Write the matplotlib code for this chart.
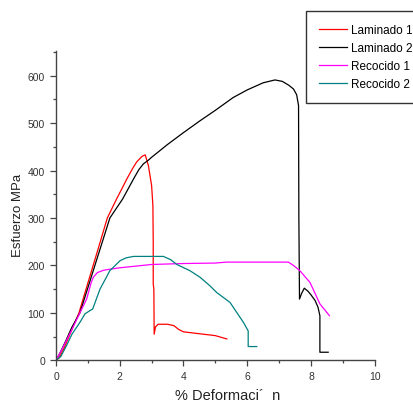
import matplotlib
matplotlib.use('Agg')
import matplotlib.pyplot as plt
from matplotlib.ticker import MultipleLocator

# Laminado 1 (red)
lam1_x = [0, 0.1, 0.25, 0.5, 0.72, 1.0, 1.3, 1.61, 1.9, 2.1, 2.22, 2.4, 2.53,
          2.7, 2.8, 2.9, 3.0, 3.04, 3.05, 3.05, 3.07, 3.08, 3.12, 3.2, 3.5,
          3.7, 3.85, 4.0, 4.5, 5.0, 5.36]
lam1_y = [0, 5, 25, 65, 100, 163, 230, 300, 340, 366, 382, 404, 418,
          430, 433, 410, 368, 326, 250, 161, 150, 55, 70, 76, 76,
          73, 65, 60, 56, 52, 45]

# Laminado 2 (black)
lam2_x = [0, 0.1, 0.3, 0.5, 0.75, 1.0, 1.3, 1.69, 2.09, 2.43, 2.6, 2.74, 2.9,
          3.0, 3.5, 4.0, 4.52, 5.0, 5.56, 6.0, 6.5, 6.87, 7.1, 7.3, 7.45,
          7.55, 7.61, 7.62, 7.64, 7.7, 7.79, 7.9, 8.0, 8.13, 8.22, 8.28,
          8.28, 8.54]
lam2_y = [0, 12, 40, 70, 100, 153, 217, 300, 340, 382, 402, 414, 422,
          428, 455, 480, 505, 527, 554, 570, 585, 591, 588, 580, 572,
          560, 537, 300, 129, 140, 152, 146, 138, 126, 112, 94,
          17, 17]

# Recocido 1 (magenta)
rec1_x = [0, 0.2, 0.5, 0.75, 0.96, 1.1, 1.17, 1.3, 1.5, 1.69, 2.0, 2.43, 3.0,
          4.0, 5.0, 5.36, 6.0, 7.0, 7.29, 7.45, 7.65, 7.97, 8.28, 8.58]
rec1_y = [0, 25, 65, 100, 129, 163, 175, 185, 190, 192, 195, 198, 202,
          204, 205, 207, 207, 207, 207, 200, 189, 164, 119, 94]

# Recocido 2 (teal)
rec2_x = [0, 0.15, 0.33, 0.5, 0.75, 0.91, 1.07, 1.15, 1.38, 1.69, 2.01, 2.2,
          2.43, 3.0, 3.37, 3.6, 3.79, 4.2, 4.52, 4.83, 5.04, 5.46, 5.88,
          6.03, 6.03, 6.30]
rec2_y = [0, 8, 31, 55, 80, 98, 105, 108, 150, 189, 210, 216,
          219, 219, 219, 212, 202, 189, 175, 157, 143, 122, 80,
          62, 29, 29]

series = [
    ('Laminado 1', lam1_x, lam1_y, '#ff0000'),
    ('Laminado 2', lam2_x, lam2_y, '#000000'),
    ('Recocido 1', rec1_x, rec1_y, '#ff00ff'),
    ('Recocido 2', rec2_x, rec2_y, '#008080'),
]

plt.rcParams['font.family'] = ['Liberation Sans', 'DejaVu Sans']

fig = plt.figure(figsize=(4.14, 4.06), dpi=100)
ax = fig.add_axes([0.1353, 0.1101, 0.7698, 0.7618])

for lab, xs, ys, col in series:
    ax.plot(xs, ys, color=col, lw=0.9, label=lab)

ax.set_xlim(0, 10)
ax.set_ylim(0, 652)
ax.xaxis.set_major_locator(MultipleLocator(2))
ax.xaxis.set_minor_locator(MultipleLocator(1))
ax.yaxis.set_major_locator(MultipleLocator(100))
ax.yaxis.set_minor_locator(MultipleLocator(50))

for s in ('top', 'right'):
    ax.spines[s].set_visible(False)
for s in ('left', 'bottom'):
    ax.spines[s].set_color('#444444')
    ax.spines[s].set_linewidth(1.0)

ax.tick_params(which='major', direction='out', length=4, width=0.9,
               color='#444444', labelsize=7.5, labelcolor='#333333', pad=4)
ax.tick_params(which='minor', direction='out', length=2.5, width=0.9,
               color='#444444')

fig.text(228 / 414, 1 - 396 / 406, '% Deformaci\u00b4  n', ha='center',
         va='center', fontsize=10.5, color='#222222')
fig.text(18 / 414, 1 - 215 / 406, 'Esfuerzo MPa', ha='center', va='center',
         rotation=90, fontsize=9.5, color='#222222')

leg = fig.legend(loc='upper left', bbox_to_anchor=(305.7 / 414, 1 - 12 / 406),
                 frameon=True, fancybox=False, fontsize=8.5, borderaxespad=0,
                 handlelength=2.4, handletextpad=0.3, labelspacing=0.5,
                 borderpad=1.1)
leg.get_frame().set_edgecolor('#000000')
leg.get_frame().set_linewidth(1.0)

fig.savefig('out.png', dpi=100)
